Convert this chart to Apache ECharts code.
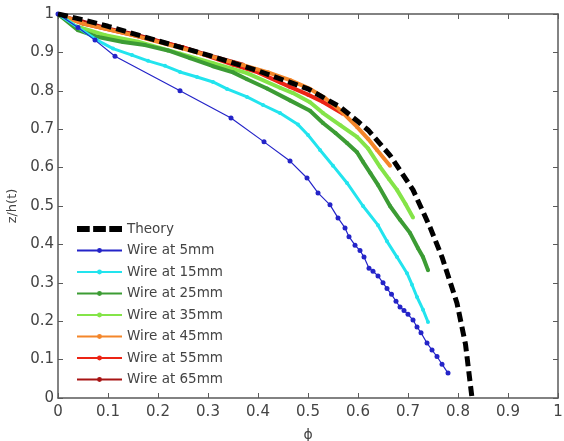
<!DOCTYPE html>
<html>
<head>
<meta charset="utf-8">
<script src="https://cdn.jsdelivr.net/npm/echarts@6/dist/echarts.min.js"></script>
<style>
  html, body { margin: 0; padding: 0; background: #fff; }
  #chart { width: 564px; height: 441px; }
</style>
</head>
<body>
<div id="chart"></div>
<script>
  // values: [phi, z/h(t)]
  var theory = [[0,1],[0.05,0.985],[0.1,0.968],[0.2,0.93],[0.3,0.893],[0.4,0.852],[0.5,0.805],[0.564,0.758],[0.6,0.72],[0.62,0.698],[0.664,0.632],[0.71,0.542],[0.744,0.445],[0.768,0.367],[0.798,0.247],[0.815,0.14],[0.828,0]]
  var wire5 = [[0,1],[0.04,0.965],[0.074,0.932],[0.114,0.89],[0.244,0.8],[0.346,0.729],[0.412,0.667],[0.464,0.617],[0.498,0.573],[0.52,0.534],[0.544,0.503],[0.56,0.469],[0.574,0.443],[0.582,0.42],[0.594,0.398],[0.604,0.384],[0.612,0.367],[0.622,0.338],[0.63,0.33],[0.64,0.318],[0.65,0.3],[0.658,0.285],[0.667,0.27],[0.676,0.252],[0.684,0.237],[0.692,0.228],[0.7,0.218],[0.71,0.203],[0.718,0.185],[0.726,0.17],[0.738,0.143],[0.748,0.125],[0.758,0.108],[0.768,0.088],[0.78,0.065]]
  var wire15 = [[0,1],[0.04,0.965],[0.078,0.932],[0.11,0.91],[0.148,0.893],[0.18,0.878],[0.214,0.865],[0.244,0.849],[0.278,0.836],[0.31,0.823],[0.338,0.805],[0.378,0.784],[0.41,0.763],[0.444,0.742],[0.48,0.712],[0.5,0.685],[0.524,0.646],[0.55,0.605],[0.578,0.56],[0.61,0.5],[0.64,0.45],[0.658,0.408],[0.678,0.367],[0.698,0.325],[0.708,0.295],[0.718,0.263],[0.73,0.23],[0.74,0.198]]
  var wire25 = [[0,1],[0.04,0.958],[0.08,0.94],[0.13,0.927],[0.174,0.919],[0.22,0.905],[0.264,0.885],[0.31,0.864],[0.35,0.848],[0.378,0.83],[0.418,0.806],[0.464,0.775],[0.504,0.748],[0.53,0.716],[0.555,0.69],[0.578,0.664],[0.598,0.64],[0.61,0.615],[0.625,0.585],[0.64,0.555],[0.664,0.5],[0.684,0.464],[0.704,0.43],[0.72,0.39],[0.73,0.367],[0.74,0.333]]
  var wire35 = [[0,1],[0.034,0.969],[0.094,0.945],[0.16,0.928],[0.244,0.897],[0.31,0.872],[0.378,0.846],[0.444,0.808],[0.47,0.794],[0.504,0.77],[0.53,0.742],[0.565,0.71],[0.598,0.68],[0.62,0.65],[0.644,0.602],[0.662,0.57],[0.678,0.542],[0.695,0.505],[0.71,0.47]]
  var wire45 = [[0,1],[0.05,0.975],[0.15,0.945],[0.25,0.91],[0.37,0.867],[0.42,0.848],[0.464,0.828],[0.504,0.805],[0.535,0.78],[0.564,0.75],[0.598,0.706],[0.62,0.675],[0.638,0.646],[0.664,0.605]]
  var wire55 = [[0,1],[0.05,0.975],[0.15,0.945],[0.25,0.913],[0.35,0.868],[0.4,0.848],[0.444,0.822],[0.464,0.81],[0.5,0.79],[0.53,0.771],[0.57,0.74]]
  var wire65 = [[0,1],[0.02,0.99],[0.05,0.98],[0.1,0.962],[0.15,0.948],[0.2,0.93],[0.25,0.913],[0.3,0.893],[0.35,0.875],[0.37,0.868]]

  var names = ['Wire at 5mm','Wire at 15mm','Wire at 25mm','Wire at 35mm','Wire at 45mm','Wire at 55mm','Wire at 65mm']
  var colors = ['#2424c8','#22e4ee','#3c9c34','#84e448','#f4862a','#ec2414','#a81414']
  var wires = [wire5, wire15, wire25, wire35, wire45, wire55, wire65]
  var widths = [1.2, 3, 4, 4, 4, 4, 4]

  var axisCol = '#5a5a5a'
  var txt = '#444'

  function wireSeries(i) {
    return {
      name: names[i],
      type: 'line',
      data: wires[i],
      symbol: 'circle',
      symbolSize: i === 0 ? 5 : 4,
      showAllSymbol: true,
      z: 13 - i,
      itemStyle: { color: colors[i] },
      lineStyle: { color: colors[i], width: widths[i] },
      animation: false
    }
  }

  var series = [{
    name: 'Theory',
    type: 'line',
    data: theory,
    symbol: 'none',
    z: 20,
    itemStyle: { color: '#000' },
    lineStyle: { color: '#000', width: 5, type: [10, 5] },
    animation: false
  }]
  for (var i = 0; i < wires.length; i++) series.push(wireSeries(i))

  var legendData = [{
    name: 'Theory',
    icon: 'path://M0,0h13v6h-13z M16.5,0h13v6h-13z M33,0h13v6h-13z'
  }].concat(names)

  var chart = echarts.init(document.getElementById('chart'))
  chart.setOption({
    animation: false,
    textStyle: { fontFamily: 'DejaVu Sans, sans-serif' },
    grid: { left: 58, right: 6, top: 14, bottom: 43, containLabel: false, outerBoundsMode: 'none' },
    legend: {
      orient: 'vertical',
      left: 71,
      top: 217,
      itemWidth: 45,
      itemHeight: 6,
      itemGap: 7.5,
      textStyle: { color: txt, fontSize: 13.5 },
      data: legendData
    },
    xAxis: [{
      type: 'value', min: 0, max: 1, interval: 0.1,
      name: 'ϕ', nameLocation: 'middle', nameGap: 30,
      nameTextStyle: { color: txt, fontSize: 14 },
      axisLine: { lineStyle: { color: axisCol, width: 1.5 } },
      axisTick: { inside: true, length: 5, lineStyle: { color: axisCol } },
      axisLabel: { color: txt, fontSize: 15, margin: 7 },
      splitLine: { show: false }
    }, {
      type: 'value', min: 0, max: 1, interval: 0.1, position: 'top',
      axisLine: { onZero: false, lineStyle: { color: axisCol, width: 1.5 } },
      axisTick: { inside: true, length: 5, lineStyle: { color: axisCol } },
      axisLabel: { show: false },
      splitLine: { show: false }
    }],
    yAxis: [{
      type: 'value', min: 0, max: 1, interval: 0.1,
      name: 'z/h(t)', nameLocation: 'middle', nameGap: 36,
      nameTextStyle: { color: txt, fontSize: 13 },
      axisLine: { show: true, lineStyle: { color: axisCol, width: 1.5 } },
      axisTick: { show: true, inside: true, length: 5, lineStyle: { color: axisCol } },
      axisLabel: { color: txt, fontSize: 15, margin: 4 },
      splitLine: { show: false }
    }, {
      type: 'value', min: 0, max: 1, interval: 0.1, position: 'right',
      axisLine: { show: true, onZero: false, lineStyle: { color: axisCol, width: 1.5 } },
      axisTick: { show: true, inside: true, length: 5, lineStyle: { color: axisCol } },
      axisLabel: { show: false },
      splitLine: { show: false }
    }],
    series: series
  })
</script>
</body>
</html>
